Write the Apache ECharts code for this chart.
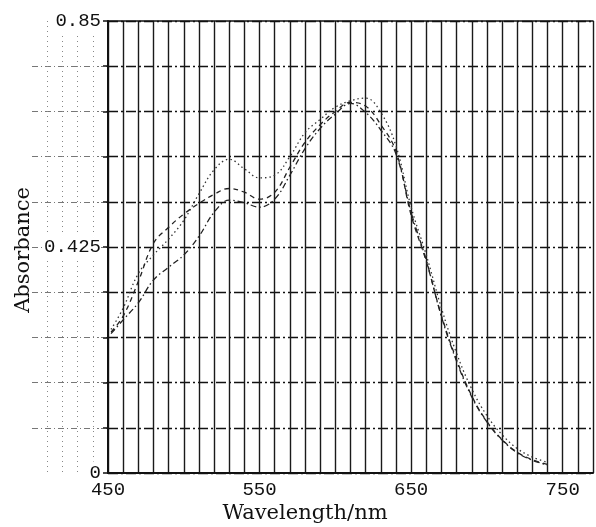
<!DOCTYPE html>
<html>
<head>
<meta charset="utf-8">
<script src="https://cdn.jsdelivr.net/npm/echarts@6/dist/echarts.min.js"></script>
<style>html,body{margin:0;padding:0;background:#fff;}#c{width:596px;height:527px;}</style>
</head>
<body>
<div id="c"></div>
<script>
// Wavelength samples (nm)
const wavelengths = [452,460,470,480,490,500,510,520,530,540,550,560,570,580,590,600,610,620,630,640,650,660,670,680,690,700,710,720,730,740];
// Absorbance curves
const dottedCurve = [0.27,0.31,0.375,0.41,0.44,0.475,0.525,0.57,0.59,0.572,0.555,0.56,0.595,0.64,0.665,0.688,0.70,0.705,0.678,0.615,0.50,0.41,0.31,0.225,0.158,0.108,0.072,0.046,0.03,0.02];
const dashedCurve = [0.265,0.295,0.36,0.432,0.462,0.487,0.507,0.524,0.535,0.528,0.515,0.528,0.575,0.622,0.655,0.68,0.697,0.69,0.655,0.605,0.485,0.398,0.296,0.213,0.145,0.097,0.063,0.039,0.025,0.016];
const dashDotCurve = [0.262,0.288,0.32,0.363,0.387,0.41,0.445,0.49,0.513,0.508,0.50,0.515,0.56,0.61,0.648,0.675,0.695,0.678,0.645,0.60,0.49,0.40,0.294,0.21,0.143,0.096,0.062,0.038,0.024,0.015];
// Tick labels
const xTickLabels = [450,550,650,750];
const yTickLabels = ['0','0.425','0.85'];

const pairs = arr => wavelengths.map((w,i)=>[w,arr[i]]);
const monoFont = {fontFamily:'Liberation Mono', fontSize:19, color:'#111'};

const chart = echarts.init(document.getElementById('c'), null, {renderer:'canvas'});
chart.setOption({
  animation:false,
  backgroundColor:'#fff',
  grid:[
    {left:108, right:3, top:21, bottom:54},
    {left:32, width:76, top:21, bottom:54}
  ],
  xAxis:[
    {type:'value', gridIndex:0, min:450, max:770, interval:10, z:3,
     axisLine:{lineStyle:{color:'#111', width:2}},
     axisTick:{show:false},
     axisLabel:Object.assign({margin:7, formatter:v=> xTickLabels.indexOf(v)>=0 ? String(v) : ''}, monoFont),
     splitLine:{show:true, lineStyle:{color:'#1a1a1a', width:1.4, type:'solid'}}},
    {type:'value', gridIndex:1, min:400, max:450, interval:10, z:1,
     axisLine:{show:false}, axisTick:{show:false}, axisLabel:{show:false},
     splitLine:{show:true, showMinLine:false, showMaxLine:false, lineStyle:{color:'#888', width:1, type:[1,4]}}},
    {type:'value', gridIndex:0, position:'top', min:450, max:770, z:3,
     axisLine:{lineStyle:{color:'#111', width:1.6}}, axisTick:{show:false}, axisLabel:{show:false}, splitLine:{show:false}}
  ],
  yAxis:[
    {type:'value', gridIndex:0, min:0, max:0.85, interval:0.085, z:3,
     axisLine:{lineStyle:{color:'#111', width:2}},
     axisTick:{show:true, length:5, lineStyle:{color:'#111', width:1.5}},
     axisLabel:Object.assign({margin:7, backgroundColor:'#fff', padding:[2,0,2,2],
       formatter:v=>{const s=String(Math.round(v*1000)/1000); return yTickLabels.indexOf(s)>=0 ? s : '';}}, monoFont),
     splitLine:{show:true, lineStyle:{color:'#111', width:1.4, type:[10,3,2,3]}}},
    {type:'value', gridIndex:1, min:0, max:0.85, interval:0.085, z:1,
     axisLine:{show:false}, axisTick:{show:false}, axisLabel:{show:false},
     splitLine:{show:true, showMinLine:false, showMaxLine:false, lineStyle:{color:'#777', width:1, type:[6,3,1,3]}}}
  ],
  series:[
    {type:'line', xAxisIndex:0, yAxisIndex:0, data:pairs(dottedCurve), smooth:0.4, symbol:'none', z:5,
     lineStyle:{color:'#333', width:1.3, type:[1.5,3]}},
    {type:'line', xAxisIndex:0, yAxisIndex:0, data:pairs(dashedCurve), smooth:0.4, symbol:'none', z:5,
     lineStyle:{color:'#222', width:1.3, type:[5,4]}},
    {type:'line', xAxisIndex:0, yAxisIndex:0, data:pairs(dashDotCurve), smooth:0.4, symbol:'none', z:5,
     lineStyle:{color:'#222', width:1.3, type:[6,3,1.5,3]}}
  ],
  graphic:[
    {type:'text', x:305, y:514, z:10,
     style:{text:'Wavelength/nm', fontFamily:'DejaVu Serif', fontSize:21, fill:'#111', textAlign:'center', textVerticalAlign:'middle'}},
    {type:'text', x:24, y:250, rotation:Math.PI/2, z:10,
     style:{text:'Absorbance', fontFamily:'DejaVu Serif', fontSize:21, fill:'#111', textAlign:'center', textVerticalAlign:'middle'}}
  ]
});
</script>
</body>
</html>
